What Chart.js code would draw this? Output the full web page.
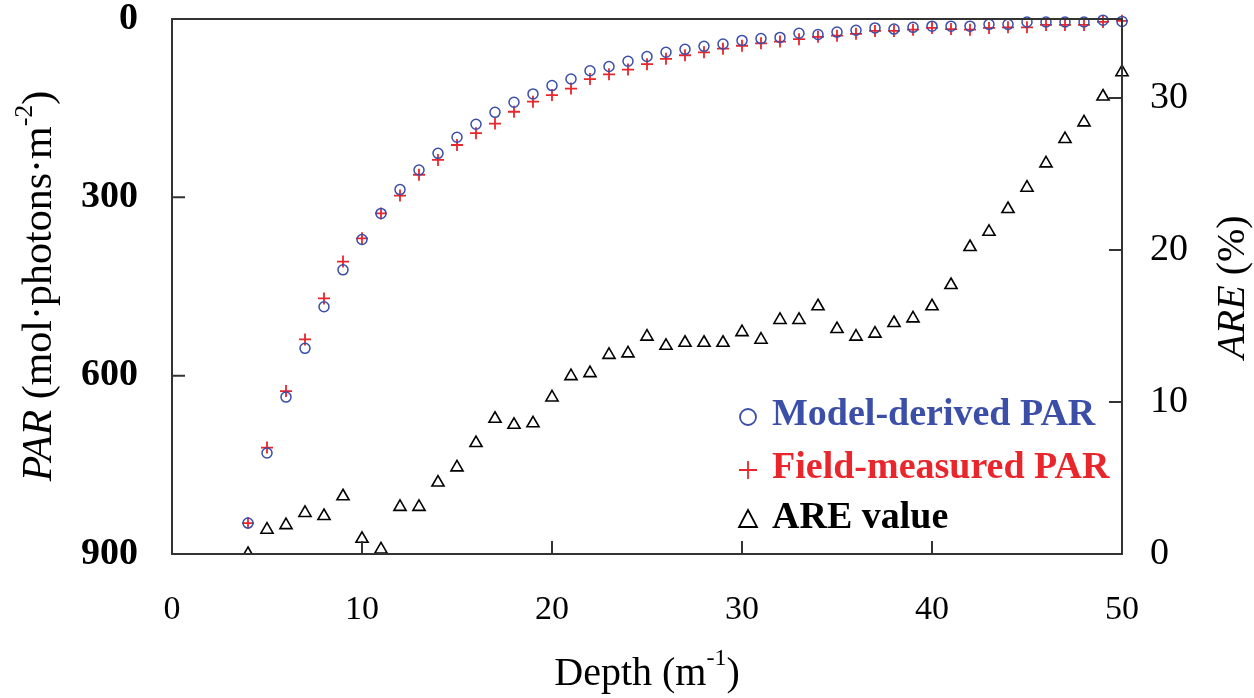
<!DOCTYPE html>
<html lang="en">
<head>
<meta charset="UTF-8">
<title>PAR vs Depth</title>
<script src="https://cdn.jsdelivr.net/npm/chart.js"></script>
<style>
  html, body { margin: 0; padding: 0; background: #fff; }
</style>
</head>
<body>
<canvas id="myChart" width="1254" height="698"></canvas>
<script>
// values
const depths = [4, 5, 6, 7, 8, 9, 10, 11, 12, 13, 14, 15, 16, 17, 18, 19, 20, 21, 22, 23, 24, 25, 26, 27,
  28, 29, 30, 31, 32, 33, 34, 35, 36, 37, 38, 39, 40, 41, 42, 43, 44, 45, 46, 47, 48, 49, 50];
const modelPar = [848, 730, 636, 554, 484, 422, 371, 327, 287, 254, 226, 199, 177, 157, 140, 126, 112, 101,
  87, 80, 71, 63, 56, 51, 46, 42, 36, 33, 31, 24, 26, 22, 19, 15, 17, 14, 12, 12, 12, 9, 9, 5, 5, 5, 5, 2, 4];
const fieldPar = [848, 721, 626, 539, 470, 408, 369, 327, 297, 262, 237, 212, 192, 176, 156, 139, 128, 117,
  101, 93, 85, 76, 67, 61, 56, 50, 45, 41, 38, 34, 30, 28, 25, 20, 20, 18, 15, 17, 18, 15, 14, 14, 10, 10, 10, 5, 3];
const areValues = [0, 1.6, 1.9, 2.7, 2.5, 3.8, 1.0, 0.3, 3.1, 3.1, 4.7, 5.7, 7.3, 8.9, 8.5, 8.6, 10.3, 11.7,
  11.9, 13.1, 13.2, 14.3, 13.7, 13.9, 13.9, 13.9, 14.6, 14.1, 15.4, 15.4, 16.3, 14.8, 14.3, 14.5, 15.2, 15.5,
  16.3, 17.7, 20.2, 21.2, 22.7, 24.1, 25.7, 27.3, 28.4, 30.1, 31.7];
const xTicks = [0, 10, 20, 30, 40, 50];
const parTicks = [0, 300, 600, 900];
const areTicks = [0, 10, 20, 30];

const BLUE = '#3b4ea8';
const RED = '#e8262c';
const SERIF = "'Liberation Serif', 'Times New Roman', serif";

function pts(vals) {
  return depths.map((d, i) => ({ x: d, y: vals[i] }));
}

// draws a row of text pieces (different fonts / superscripts) centred on 0,0
function richText(ctx, pieces) {
  let total = 0;
  pieces.forEach(p => { ctx.font = p.font; p.w = ctx.measureText(p.text).width; total += p.w; });
  let x = -total / 2;
  ctx.textAlign = 'left';
  ctx.textBaseline = 'middle';
  pieces.forEach(p => {
    ctx.font = p.font;
    ctx.fillText(p.text, x, p.dy || 0);
    x += p.w;
  });
}

const framePlugin = {
  id: 'frame',
  afterDatasetsDraw(chart) {
    const { ctx, chartArea: a, scales } = chart;
    ctx.save();
    ctx.strokeStyle = '#333';
    ctx.lineWidth = 2;
    ctx.strokeRect(a.left, a.top, a.right - a.left, a.bottom - a.top);
    ctx.beginPath();
    xTicks.slice(1, -1).forEach(v => {
      const px = scales.x.getPixelForValue(v);
      ctx.moveTo(px, a.bottom); ctx.lineTo(px, a.bottom - 13);
    });
    parTicks.slice(1, -1).forEach(v => {
      const py = scales.y.getPixelForValue(v);
      ctx.moveTo(a.left, py); ctx.lineTo(a.left + 13, py);
    });
    areTicks.slice(1).forEach(v => {
      const py = scales.y2.getPixelForValue(v);
      ctx.moveTo(a.right, py); ctx.lineTo(a.right - 13, py);
    });
    ctx.stroke();
    ctx.restore();
  }
};

const titlePlugin = {
  id: 'titles',
  afterDraw(chart) {
    const ctx = chart.ctx;
    ctx.save();
    ctx.fillStyle = '#000';
    // left axis title
    ctx.save();
    ctx.translate(40, 286);
    ctx.rotate(-Math.PI / 2);
    richText(ctx, [
      { text: 'PAR', font: 'italic 42px ' + SERIF },
      { text: ' (mol\u00b7photons\u00b7m', font: '42px ' + SERIF },
      { text: '-2', font: '26px ' + SERIF, dy: -15 },
      { text: ')', font: '42px ' + SERIF }
    ]);
    ctx.restore();
    // right axis title
    ctx.save();
    ctx.translate(1233, 287);
    ctx.rotate(-Math.PI / 2);
    richText(ctx, [
      { text: 'ARE', font: 'italic 40px ' + SERIF },
      { text: ' (%)', font: '40px ' + SERIF }
    ]);
    ctx.restore();
    // x axis title
    ctx.save();
    ctx.translate(647, 674);
    richText(ctx, [
      { text: 'Depth (m', font: '40px ' + SERIF },
      { text: '-1', font: '24px ' + SERIF, dy: -15 },
      { text: ')', font: '40px ' + SERIF }
    ]);
    ctx.restore();
    ctx.restore();
  }
};

const legendPlugin = {
  id: 'innerLegend',
  afterDraw(chart) {
    const ctx = chart.ctx;
    const rows = [415, 468, 518];
    ctx.save();
    ctx.font = 'bold 38px ' + SERIF;
    ctx.textAlign = 'left';
    ctx.textBaseline = 'middle';
    chart.data.datasets.forEach((ds, i) => {
      const y = rows[i];
      const mx = 748;
      ctx.strokeStyle = ds.borderColor;
      ctx.lineWidth = 1.8;
      ctx.beginPath();
      if (ds.pointStyle === 'circle') {
        ctx.arc(mx, y + 2, 8, 0, Math.PI * 2);
      } else if (ds.pointStyle === 'cross') {
        ctx.moveTo(mx - 9, y + 2); ctx.lineTo(mx + 9, y + 2);
        ctx.moveTo(mx, y - 7); ctx.lineTo(mx, y + 11);
      } else {
        ctx.moveTo(mx, y - 8); ctx.lineTo(mx + 9, y + 9); ctx.lineTo(mx - 9, y + 9); ctx.closePath();
      }
      ctx.stroke();
      ctx.fillStyle = ds.legendColor;
      ctx.fillText(ds.label, 772, y);
    });
    ctx.restore();
  }
};

// keep the plot box fixed: no extra room for overhanging end labels
function fixY(width) {
  return s => { s.width = width; s.paddingTop = 0; s.paddingBottom = 0; };
}

const ctx = document.getElementById('myChart').getContext('2d');
const myChart = new Chart(ctx, {
  type: 'scatter',
  data: {
    datasets: [{
      label: 'Model-derived PAR',
      data: pts(modelPar),
      yAxisID: 'y',
      pointStyle: 'circle',
      pointRadius: 5,
      pointBorderWidth: 1.5,
      borderColor: BLUE,
      backgroundColor: 'rgba(0,0,0,0)',
      legendColor: BLUE,
      clip: false
    }, {
      label: 'Field-measured PAR',
      data: pts(fieldPar),
      yAxisID: 'y',
      pointStyle: 'cross',
      pointRadius: 6,
      pointBorderWidth: 1.8,
      borderColor: RED,
      backgroundColor: RED,
      legendColor: RED,
      clip: false
    }, {
      label: 'ARE value',
      data: pts(areValues),
      yAxisID: 'y2',
      pointStyle: 'triangle',
      pointRadius: 7,
      pointBorderWidth: 1.6,
      borderColor: '#000',
      backgroundColor: 'rgba(0,0,0,0)',
      legendColor: '#000',
      clip: { left: false, top: false, right: false, bottom: 0 }
    }]
  },
  options: {
    responsive: false,
    maintainAspectRatio: false,
    animation: false,
    events: [],
    layout: { padding: { top: 19, left: 0, right: 0, bottom: 0 } },
    plugins: { legend: { display: false }, tooltip: { enabled: false } },
    scales: {
      x: {
        type: 'linear',
        position: 'bottom',
        min: 0,
        max: 50,
        grid: { display: false, drawTicks: false },
        border: { display: false },
        afterBuildTicks: s => { s.ticks = xTicks.map(v => ({ value: v })); },
        afterFit: s => { s.height = 144; s.paddingLeft = 0; s.paddingRight = 0; },
        ticks: { color: '#000', padding: 36, maxRotation: 0, font: { family: SERIF, size: 34 } }
      },
      y: {
        position: 'left',
        reverse: true,
        min: 0,
        max: 900,
        grid: { display: false, drawTicks: false },
        border: { display: false },
        afterBuildTicks: s => { s.ticks = parTicks.map(v => ({ value: v })); },
        afterFit: fixY(172),
        ticks: { color: '#000', padding: 34, font: { family: SERIF, size: 38, weight: 'bold' } }
      },
      y2: {
        position: 'right',
        min: 0,
        max: 35.2,
        grid: { display: false, drawTicks: false },
        border: { display: false },
        afterBuildTicks: s => { s.ticks = areTicks.map(v => ({ value: v })); },
        afterFit: fixY(132),
        ticks: { color: '#000', padding: 28, font: { family: SERIF, size: 38 } }
      }
    }
  },
  plugins: [framePlugin, titlePlugin, legendPlugin]
});
</script>
</body>
</html>
